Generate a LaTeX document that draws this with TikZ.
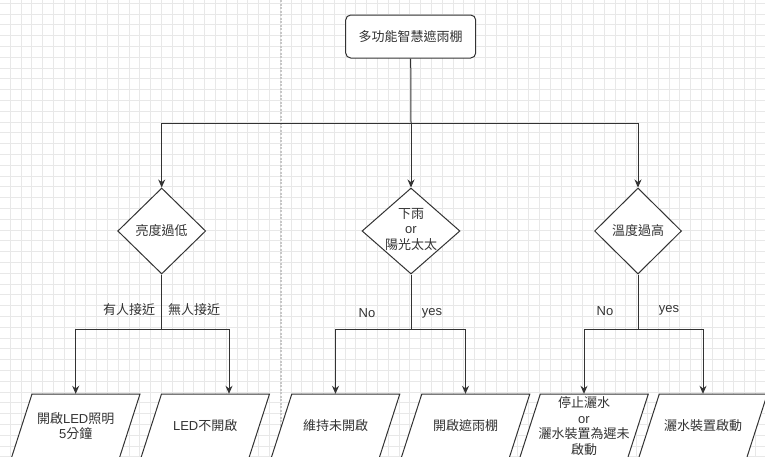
\documentclass[tikz,border=0pt]{standalone}
\usepackage{fontspec}
\setmainfont{Liberation Sans}
\newfontfamily\cjk{Noto Sans CJK TC}
\usetikzlibrary{shapes,arrows.meta,positioning,calc}

\tikzset{
    gridline/.style={black!9, line width=0.6pt},
    line/.style={draw=black!80, line width=1pt},
    arr/.style={line, -{Stealth[length=8pt,width=7pt]}},
    title/.style={draw=black!80, line width=1pt, fill=white, rounded corners=5pt, minimum width=130pt, minimum height=43pt},
    cond/.style={diamond, draw=black!80, line width=1pt, fill=white, inner sep=0pt, minimum height=86pt},
    iobox/.style={draw=black!80, line width=1pt, fill=white},
    txt/.style={align=center, text=black!80, font=\fontsize{13}{15.5}\selectfont},
}

\begin{document}
\begin{tikzpicture}[x=1pt, y=-1pt]
    \clip (0,0) rectangle (765,456);
    \fill[white] (0,0) rectangle (765,456);
    % canvas grid
    \foreach \i in {0,...,71} \draw[gridline] ({-0.8+10.8*\i},0) -- ({-0.8+10.8*\i},456);
    \foreach \j in {0,...,42} \draw[gridline] (0,{3+10.8*\j}) -- (765,{3+10.8*\j});
    \draw[black!22, line width=1.2pt, dash pattern=on 2pt off 1.5pt] (281,0) -- (281,456);

    % top box
    \node[title, txt] (top) at (410.7,36.5) {{\cjk 多功能智慧遮雨棚}};

    % conditions
    \node[cond, minimum width=88pt] (d1) at (161.7,231) {};
    \node[cond, minimum width=98pt] (d2) at (411,231) {};
    \node[cond, minimum width=87pt] (d3) at (638,231) {};
    \node[txt] (d1t) at (d1) {{\cjk 亮度過低}};
    \node[txt] (d2t) at (411,229) {{\cjk 下雨}\\or\\{\cjk 陽光太太}};
    \node[txt] (d3t) at (d3) {{\cjk 溫度過高}};

    \coordinate (split) at (411,123);
    \draw[line] (top.south) -- (split);
    \draw[arr] (split) -| (d1.north);
    \draw[arr] (split) -- (d2.north);
    \draw[arr] (split) -| (d3.north);

    % outcomes
    \foreach \n/\cx/\t in {
        p1/75.7/{{\cjk 開啟}LED{\cjk 照明}\\5{\cjk 分鐘}},
        p2/205.2/{LED{\cjk 不開啟}},
        p3/335.5/{{\cjk 維持未開啟}},
        p4/465.5/{{\cjk 開啟遮雨棚}},
        p5/584/{{\cjk 停止灑水}\\or\\{\cjk 灑水裝置為遲未}\\{\cjk 啟動}},
        p6/703/{{\cjk 灑水裝置啟動}}} {
        \draw[iobox] (\cx-64.3,458) -- (\cx+43.7,458) -- (\cx+64.3,394) -- (\cx-43.7,394) -- cycle;
        \node[txt, minimum width=128.6pt, minimum height=64pt, inner sep=0pt] (\n) at (\cx,426) {\t};
    }

    % branches
    \foreach \d/\a/\b/\s in {d1/p1/p2/23.8, d2/p3/p4/0, d3/p5/p6/0} {
        \coordinate (\d j) at (\d.south |- 0,329);
        \draw[line] (\d.south) -- (\d j);
        \draw[arr] (\d j) -| (\a.north);
        \draw[arr] (\d j) -| ([xshift=\s pt]\b.north);
    }

    % branch labels
    \node[txt] (l1) at (129,310) {{\cjk 有人接近}};
    \node[txt] (l2) at (194,310) {{\cjk 無人接近}};
    \node[txt] (l3) at (367,313) {No};
    \node[txt] (l4) at (432,313) {yes};
    \node[txt] (l5) at (605,311) {No};
    \node[txt] (l6) at (669,310) {yes};
\end{tikzpicture}
\end{document}
